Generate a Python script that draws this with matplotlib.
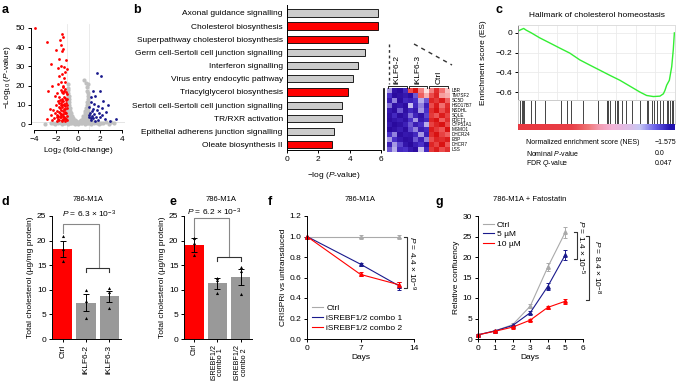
import numpy as np
import matplotlib
matplotlib.use('Agg')
import matplotlib.pyplot as plt
from matplotlib.colors import LinearSegmentedColormap
from matplotlib.lines import Line2D

plt.rcParams['font.family'] = ['Liberation Sans', 'DejaVu Sans']
plt.rcParams['mathtext.fontset'] = 'custom'
plt.rcParams['mathtext.rm'] = 'Liberation Sans'
plt.rcParams['mathtext.it'] = 'Liberation Sans:italic'
plt.rcParams['font.size'] = 6
plt.rcParams['axes.linewidth'] = 0.7
plt.rcParams['xtick.major.width'] = 0.7
plt.rcParams['ytick.major.width'] = 0.7
plt.rcParams['xtick.major.size'] = 2
plt.rcParams['ytick.major.size'] = 2
plt.rcParams['xtick.major.pad'] = 2
plt.rcParams['ytick.major.pad'] = 2
plt.rcParams['axes.labelpad'] = 2

# ---- a: volcano plot ----
red_x = [-3.9, -2.8, -1.45, -1.65, -1.35, -1.55, -1.4, -2.05, -1.5, -1.1, -1.75, -2.45, -1.6, -1.3, -1.85,
         -1.0, -1.2, -1.45, -1.7, -1.3, -2.4, -1.55, -1.15, -1.8, -1.35, -2.75, -1.6, -1.2, -1.9, -1.4,
         -1.05, -2.15, -1.7, -1.25, -1.5, -1.0, -1.85, -1.35, -1.6, -1.1, -2.0, -1.45, -1.2, -1.75, -2.6,
         -2.3, -1.3, -1.0, -1.55, -1.9, -2.1, -1.15, -1.65, -1.4, -2.5, -1.8, -1.05, -1.25, -1.55, -2.2,
         -1.95, -1.35, -1.7, -1.1, -2.8, -1.5, -1.9, -1.2, -2.4,
         -1.05, -1.15, -1.25, -1.35, -1.45, -1.55, -1.65, -1.75, -1.85, -1.95, -1.08, -1.18, -1.28, -1.38,
         -1.48, -1.58, -1.68, -1.78, -1.02, -1.12, -1.22, -1.32, -1.42, -1.52, -1.62, -1.1, -1.2, -1.3,
         -1.4, -1.5]
red_y = [50, 42.5, 47, 43.5, 45, 41, 39, 38.5, 38, 33.5, 34, 31, 30, 29.5, 29,
         28.5, 27, 26, 25, 24, 20, 22, 22, 21, 20, 17, 18, 18.5, 16, 16,
         15.5, 14.5, 14, 14, 13, 13, 12, 12, 11, 11, 10, 10, 9.5, 9, 8,
         7.5, 8, 8.5, 7.5, 7, 6, 6.5, 6, 5.5, 5, 4.5, 4.5, 4, 3.5, 3,
         3.5, 2.5, 2.2, 2.5, 2.5, 1.8, 1.8, 1.6, 2.0,
         2.0, 3.0, 2.8, 4.2, 2.2, 5.2, 3.8, 6.5, 2.6, 5.0, 6.0, 7.8, 10.5, 6.8,
         8.8, 9.8, 12.5, 11.2, 10.0, 12.8, 6.0, 10.2, 12.2, 4.8, 8.2, 16.5, 13.5, 17.0,
         19.5, 16.8]
blue_x = [1.7, 2.1, 1.35, 2.05, 1.2, 1.6, 2.3, 1.15, 1.5, 2.7, 1.8, 1.05, 2.2, 1.35, 1.7, 2.55, 1.1,
          1.9, 1.45, 2.2, 1.25, 1.65, 2.0, 1.05, 1.4, 2.5, 1.8, 1.2, 3.5, 2.9, 1.55, 1.3, 1.0, 1.15]
blue_y = [26.5, 25, 17, 17, 14, 14.5, 12, 11.5, 10.5, 10, 9.5, 9, 8.5, 8, 7.5, 6.5, 6,
          6, 5.5, 5, 4.5, 4, 3.5, 3.5, 3, 2.5, 2.2, 2, 2.5, 1.8, 1.8, 6.8, 5, 3]
gray_x = [-3.0, -2.5, -2.1, -1.8, -1.5, -1.2, -0.9, -0.6, -0.3, 0.0, 0.3, 0.6, 0.9, 1.2, 1.5, 1.9, 2.3, 2.8, 3.3,
          -2.3, -1.9, -1.6, -1.3, -1.0, -0.7, -0.45, -0.2, 0.1, 0.35, 0.6, 0.85, 1.1, 1.4, 1.7, 2.1, 2.6,
          -1.4, -1.1, -0.85, -0.6, -0.3, 0.0, 0.3, 0.55, 0.8, 1.05, 1.35, 1.8, 3.0,
          -0.95, -0.75, -0.55, -0.35, -0.15, 0.15, 0.35, 0.55, 0.75, 0.95,
          -0.98, -0.82, -0.65, -0.48, -0.3, 0.3, 0.48, 0.65, 0.82, 0.97,
          -0.97, -0.8, -0.62, -0.45, 0.42, 0.6, 0.78, 0.95,
          -0.98, -0.83, -0.68, -0.52, 0.5, 0.68, 0.85, 0.98,
          -0.96, -0.8, -0.65, 0.6, 0.78, 0.95,
          -0.95, -0.82, -0.7, 0.68, 0.82, 0.96,
          -0.97, -0.85, -0.74, 0.75, 0.88,
          -0.95, -0.83, 0.78, 0.92,
          -0.93, -0.82, 0.82, 0.95,
          -0.96, -0.86, 0.88,
          -0.92, -0.85, 0.92,
          -0.94, 0.9, -0.9, 0.85, -0.95, 0.8, -0.88, 0.72, 0.9, 0.55]
gray_y = [0.2, 0.4, 0.3, 0.5, 0.2, 0.4, 0.3, 0.5, 0.2, 0.3, 0.4, 0.2, 0.5, 0.3, 0.4, 0.2, 0.5, 0.3, 0.4,
          0.8, 0.9, 0.7, 0.8, 0.9, 0.7, 0.8, 0.9, 0.7, 0.8, 0.9, 0.7, 0.8, 0.9, 0.7, 0.8, 0.9,
          1.1, 1.2, 1.0, 1.1, 1.2, 1.0, 1.1, 1.2, 1.0, 1.1, 1.2, 1.0, 1.1,
          1.6, 1.5, 1.7, 1.6, 1.5, 1.5, 1.6, 1.7, 1.5, 1.6,
          2.3, 2.2, 2.4, 2.3, 2.2, 2.2, 2.3, 2.4, 2.2, 2.3,
          3.2, 3.1, 3.3, 3.2, 3.1, 3.3, 3.2, 3.1,
          4.3, 4.2, 4.4, 4.3, 4.2, 4.4, 4.3, 4.2,
          5.6, 5.5, 5.7, 5.6, 5.5, 5.7,
          7.0, 6.9, 7.1, 7.0, 6.9, 7.1,
          8.5, 8.4, 8.6, 8.5, 8.4,
          10.0, 10.1, 9.9, 10.0,
          11.5, 11.4, 11.6, 11.5,
          13.0, 13.1, 12.9,
          14.5, 14.4, 14.6,
          16.0, 16.1, 17.5, 17.4, 19.0, 19.1, 21.0, 21.2, 20.8, 23.0]

# ---- b: pathways ----
pathways = ['Axonal guidance signalling', 'Cholesterol biosynthesis', 'Superpathway cholesterol biosynthesis',
            'Germ cell-Sertoli cell junction signalling', 'Interferon signalling',
            'Virus entry endocytic pathway', 'Triacylglycerol biosynthesis',
            'Sertoli cell-Sertoli cell junction signalling', 'TR/RXR activation',
            'Epithelial adherens junction signalling', 'Oleate biosynthesis II']
pathway_logp = [5.8, 5.8, 5.2, 5.0, 4.5, 4.2, 3.9, 3.5, 3.5, 3.0, 2.9]
pathway_sterol = [False, True, True, False, False, False, True, False, False, False, True]

# ---- heatmap ----
genes = ['LBR', 'TM7SF2', 'SC5D', 'HSD17B7', 'NSDHL', 'SQLE', 'FDFT1', 'CYP51A1', 'MSMO1',
         'DHCR24', 'EBP', 'DHCR7', 'LSS']
groups = ['iKLF6-2', 'iKLF6-3', 'Ctrl']
heat = np.array([
    [-0.5, -1.8, -2.0, -1.2, 1.2, 1.8, 0.8, 0.2, 0.8, 1.5, 0.9, 0.4],
    [-1.0, -2.0, -1.8, -1.6, -1.9, -0.8, 1.0, 0.5, 1.2, 1.6, 0.6, 0.5],
    [-1.5, -0.6, -1.9, -1.2, -1.4, -1.0, -0.4, -0.8, 1.6, 1.4, 1.7, 1.0],
    [-0.7, -1.8, -1.6, -1.9, -0.3, -1.2, -0.6, -1.4, 1.2, 1.7, 0.9, 1.5],
    [-1.6, -1.9, -0.8, -1.8, -1.2, -1.6, -0.5, -1.0, 1.5, 1.8, 1.2, 1.6],
    [-1.8, -1.2, -1.9, -1.6, -0.7, -1.3, -1.8, -0.9, 1.4, 1.1, 1.7, 1.3],
    [-1.9, -1.7, -1.5, -1.8, -1.0, -0.5, -1.6, -1.2, 1.6, 1.8, 1.0, 1.5],
    [-1.6, -2.0, -1.8, -1.4, -0.8, -1.5, -1.0, -0.4, 1.3, 1.6, 1.8, 1.2],
    [-2.0, -1.8, -1.5, -1.9, -0.9, -0.6, -1.5, -1.1, 1.7, 1.4, 1.1, 1.8],
    [-1.0, -0.6, -1.9, -1.6, -1.7, -1.2, -0.5, -1.4, 1.5, 1.8, 1.3, 1.0],
    [-0.5, -1.0, -1.6, -1.9, -1.8, -0.8, -1.4, -0.6, 1.2, 1.6, 1.5, 1.7],
    [-1.4, -0.5, -0.9, -1.7, -2.0, -1.5, -1.0, -1.8, 1.6, 1.3, 1.8, 1.1],
    [-0.8, -0.4, -1.2, -1.0, -1.6, -1.9, -0.3, -1.2, 1.4, 1.7, 1.2, 1.5],
])

# ---- c: GSEA ----
es_rank = [0.0, 0.015, 0.036, 0.053, 0.085, 0.138, 0.2, 0.266, 0.33, 0.394, 0.457, 0.52, 0.585, 0.649,
           0.713, 0.777, 0.819, 0.862, 0.904, 0.926, 0.936, 0.947, 0.964, 0.979, 0.989, 0.996]
es_score = [0.017, 0.03, 0.045, 0.027, 0.0, -0.05, -0.10, -0.154, -0.205, -0.274, -0.326, -0.377, -0.43,
            -0.48, -0.54, -0.6, -0.634, -0.645, -0.641, -0.617, -0.583, -0.53, -0.48, -0.343, -0.171, 0.0]
hit_pos = [0.015, 0.023, 0.032, 0.04, 0.085, 0.109, 0.17, 0.277, 0.309, 0.336, 0.415, 0.511, 0.564, 0.568,
           0.574, 0.585, 0.617, 0.628, 0.638, 0.66, 0.691, 0.723, 0.777, 0.819, 0.83, 0.851, 0.866, 0.883,
           0.904, 0.926, 0.947, 0.957, 0.968, 0.979, 0.989]
rank_metric = [2.4, 2.3, 2.2, 2.1, 2.0, 1.9, 1.7, 1.4, 1.0, 0.6, 0.3, 0.1, -0.1, -0.3, -0.5, -0.8,
               -1.2, -1.6, -2.0, -2.4]
gsea_stats = [('Normalized enrichment score (NES)', '−1.575'),
              ('Nominal $P$-value', '0.0'),
              ('FDR $Q$-value', '0.047')]

# ---- d / e: total cholesterol ----
d_labels = ['Ctrl', 'iKLF6-2', 'iKLF6-3']
d_means = [18.3, 7.4, 8.7]
d_err = [1.6, 1.8, 1.1]
d_reps = [[20.9, 18.2, 15.9], [9.9, 7.7, 4.3], [10.4, 9.6, 6.4]]
e_labels = ['Ctrl', 'iSREBF1/2\ncombo 1', 'iSREBF1/2\ncombo 2']
e_means = [19.1, 11.3, 12.6]
e_err = [1.4, 1.2, 1.7]
e_reps = [[20.5, 19.6, 17.1], [12.3, 11.9, 9.3], [14.6, 13.8, 9.1]]

# ---- f: CRISPRi time course ----
f_days = [0, 7, 12]
f_ctrl = [1.0, 1.0, 1.0]
f_ctrl_err = [0.0, 0.01, 0.01]
f_combo1 = [1.0, 0.73, 0.52]
f_combo1_err = [0.0, 0.015, 0.04]
f_combo2 = [1.0, 0.63, 0.53]
f_combo2_err = [0.0, 0.02, 0.03]

# ---- g: fatostatin ----
g_days = [0, 1, 2, 3, 4, 5]
g_ctrl = [1.0, 2.0, 3.5, 8.0, 17.5, 26.0]
g_ctrl_err = [0.1, 0.1, 0.3, 0.5, 1.0, 1.3]
g_5um = [1.0, 2.0, 3.3, 6.4, 12.8, 20.5]
g_5um_err = [0.1, 0.1, 0.2, 0.4, 0.8, 1.2]
g_10um = [1.0, 1.9, 2.9, 4.6, 7.7, 9.2]
g_10um_err = [0.1, 0.1, 0.2, 0.3, 0.4, 0.6]

RED = '#ff0000'
NAVY = '#1a1a8c'
GRAY = '#aaaaaa'

W, H = 686, 386
fig = plt.figure(figsize=(6.86, 3.86), dpi=100)


def ax_px(x, y, w, h):
    return fig.add_axes([x / W, 1 - (y + h) / H, w / W, h / H])


def ftext(x, y, s, **kw):
    fig.text(x / W, 1 - y / H, s, **kw)


def clean(ax):
    ax.spines['top'].set_visible(False)
    ax.spines['right'].set_visible(False)


# panel letters
for lab, x, y in [('a', 2, 10), ('b', 133, 10), ('c', 495, 10),
                  ('d', 2, 202), ('e', 170, 202), ('f', 268, 202), ('g', 436, 202)]:
    ftext(x, y, lab, fontsize=9, fontweight='bold', va='center')

# a
axa = ax_px(31, 24, 94, 106)
axa.axhline(1.3, color='#e0e0e0', lw=0.6, zorder=0)
axa.axvline(-1, color='#e8e8e8', lw=0.6, zorder=0)
axa.axvline(1, color='#e8e8e8', lw=0.6, zorder=0)
axa.scatter(gray_x, gray_y, s=9, c='#c0c0c0', lw=0)
axa.scatter(red_x, red_y, s=4, c=RED, lw=0)
axa.scatter(blue_x, blue_y, s=4, c=NAVY, lw=0)
axa.set_xlim(-4.3, 4.3)
axa.set_ylim(-3, 52)
clean(axa)
axa.spines['left'].set_bounds(0, 50)
axa.spines['bottom'].set_bounds(-4, 4)
axa.set_xticks([-4, -2, 0, 2, 4])
axa.set_yticks([0, 10, 20, 30, 40, 50])
axa.set_xlabel('Log$_2$ (fold-change)')
axa.set_ylabel('−Log$_{10}$ ($P$-value)')

# b
axb = ax_px(287, 5, 94, 145)
yy = np.arange(len(pathways))
axb.barh(yy, pathway_logp, height=0.55,
         color=[RED if s else '#cccccc' for s in pathway_sterol], edgecolor='black', lw=0.6)
axb.set_xlim(0, 6)
axb.set_ylim(10.4, -0.6)
axb.set_yticks(yy)
axb.set_yticklabels(pathways)
axb.tick_params(axis='y', length=0, pad=3)
axb.set_xticks([0, 2, 4, 6])
clean(axb)
axb.set_xlabel('−log ($P$-value)', labelpad=5)

# heatmap
cmap_hm = LinearSegmentedColormap.from_list('hm', ['#2a0a9e', '#4a30c8', '#ffffff', '#f06060', '#d40000'])
axhm = ax_px(386.7, 88.3, 62.6, 63.4)
axhm.imshow(heat, cmap=cmap_hm, vmin=-2, vmax=2, aspect='auto', interpolation='nearest')
axhm.set_xlim(-0.5, 11.5)
axhm.set_ylim(12.5, -0.5)
axhm.axis('off')
for i, g in enumerate(genes):
    axhm.text(11.9, i, g, fontsize=3.3, va='center', ha='left')
for k, g in enumerate(groups):
    c0 = 4 * k
    axhm.plot([c0 - 0.3, c0 - 0.3, c0 + 3.3, c0 + 3.3], [-0.6, -0.9, -0.9, -0.6],
              color='black', lw=0.6, clip_on=False)
    axhm.text(c0 + 1.5, -1.4, g, rotation=90, ha='center', va='bottom', fontsize=6)
fig.add_artist(Line2D([384 / W, 384 / W], [1 - 89 / H, 1 - 150 / H], color='black', lw=1.2))
fig.add_artist(Line2D([389 / W, 389 / W], [1 - 44 / H, 1 - 84 / H], color='#333333', lw=1.0,
                      ls=(0, (2, 2))))
fig.add_artist(Line2D([414 / W, 452 / W], [1 - 44 / H, 1 - 65 / H], color='#333333', lw=1.0,
                      ls=(0, (3, 3))))

# c
axc = ax_px(518, 25, 157, 75)
axc.plot(es_rank, es_score, color='#33ee33', lw=1.0)
axc.set_xlim(0, 1)
axc.set_ylim(-0.68, 0.08)
axc.set_yticks([0, -0.2, -0.4, -0.6])
axc.set_yticklabels(['0', '−0.2', '−0.4', '−0.6'])
axc.set_xticks([0.125, 0.25, 0.375, 0.5, 0.625, 0.75, 0.875])
axc.tick_params(axis='x', length=0, labelbottom=False)
axc.grid(color='#ebebeb', lw=0.6)
axc.set_axisbelow(True)
for s in ['top', 'right', 'bottom']:
    axc.spines[s].set_color('#dddddd')
axc.spines['left'].set_color('#888888')
axc.set_title('Hallmark of cholesterol homeostasis', fontsize=6, pad=6)
axc.set_ylabel('Enrichment score (ES)', labelpad=6)

axhit = ax_px(518, 100, 157, 24)
axhit.vlines(hit_pos, 0, 1, color='#444444', lw=0.7)
axhit.set_xlim(0, 1)
axhit.set_ylim(0, 1)
axhit.set_xticks([])
axhit.set_yticks([])
for s in axhit.spines.values():
    s.set_color('#cccccc')

cmap_rank = LinearSegmentedColormap.from_list(
    'rk', ['#2010b0', '#6a60e8', '#c8c8f4', '#f4b4d8', '#f07878', '#e84048', '#e83840'])
axr = ax_px(518, 124, 157, 6.5)
axr.imshow(np.array([rank_metric]), cmap=cmap_rank, vmin=-2.4, vmax=2.4, aspect='auto',
           extent=(0, 1, 0, 1), interpolation='bilinear')
axr.axis('off')

for i, (lab, val) in enumerate(gsea_stats):
    ftext(526, 142 + 11 * i, lab, va='center', fontsize=5)
    ftext(655, 142 + 11 * i, val, va='center', fontsize=5)


# d and e
def chol_panel(ax, labels, means, err, reps, lab_size=6):
    x = np.arange(len(labels))
    ax.bar(x, means, width=0.82, color=[RED, '#999999', '#999999'])
    ax.errorbar(x, means, yerr=err, fmt='none', ecolor='black', elinewidth=0.7, capsize=2, capthick=0.7)
    for i, r in enumerate(reps):
        ax.scatter([i] * len(r), r, marker='^', s=5, color='black', lw=0, zorder=3)
    ax.set_ylim(0, 25)
    ax.set_yticks([0, 5, 10, 15, 20, 25])
    ax.set_xticks(x)
    ax.set_xticklabels(labels, rotation=90, fontsize=lab_size, linespacing=1.0)
    clean(ax)
    ax.set_ylabel('Total cholesterol (µg/mg protein)')


axd = ax_px(52, 216, 69, 123)
chol_panel(axd, d_labels, d_means, d_err, d_reps)
axd.set_xlim(-0.46, 2.5)
axd.plot([0, 0, 1.55, 1.55], [21.6, 23.4, 23.4, 14.5], color='#888888', lw=0.8, clip_on=False)
axd.plot([1, 1, 2, 2], [13.6, 14.5, 14.5, 13.6], color='#333333', lw=0.8, clip_on=False)
axd.text(1.15, 25.4, '$P$ = 6.3 × 10$^{-3}$', ha='center', va='center', fontsize=6, clip_on=False)
ftext(88, 199, '786-M1A', ha='center', va='center', fontsize=5.5)

axe = ax_px(184, 216, 68, 123)
chol_panel(axe, e_labels, e_means, e_err, e_reps, lab_size=5.2)
axe.tick_params(axis='x', pad=1.5)
axe.set_xlim(-0.43, 2.48)
axe.plot([0, 0, 1.5, 1.5], [20.8, 24.5, 24.5, 16.7], color='#888888', lw=0.8, clip_on=False)
axe.plot([1, 1, 2, 2], [15.8, 16.7, 16.7, 15.8], color='#333333', lw=0.8, clip_on=False)
axe.text(0.85, 25.7, '$P$ = 6.2 × 10$^{-3}$', ha='center', va='center', fontsize=6, clip_on=False)
ftext(221, 199, '786-M1A', ha='center', va='center', fontsize=5.5)

# f
axf = ax_px(307, 216, 107, 123)
for ys, es, col in [(f_ctrl, f_ctrl_err, GRAY), (f_combo1, f_combo1_err, NAVY), (f_combo2, f_combo2_err, RED)]:
    axf.errorbar(f_days, ys, yerr=es, color=col, marker='^', ms=2.5, lw=0.8, elinewidth=0.7,
                 capsize=1.2, capthick=0.7, clip_on=False)
axf.set_xlim(0, 14)
axf.set_ylim(0, 1.2)
axf.set_xticks([0, 7, 14])
axf.set_yticks([0, 0.2, 0.4, 0.6, 0.8, 1.0, 1.2])
clean(axf)
axf.set_xlabel('Days')
axf.set_ylabel('CRISPRi vs untransduced')
axf.plot([12.7, 13.05, 13.05, 12.7], [1.0, 1.0, 0.5, 0.5], color='#333333', lw=0.8, clip_on=False)
axf.text(13.75, 0.74, '$P$ = 4.4 × 10$^{-9}$', rotation=-90, ha='center', va='center', fontsize=6,
         clip_on=False)
f_handles = [Line2D([], [], color=GRAY, lw=0.8), Line2D([], [], color=NAVY, lw=0.8),
             Line2D([], [], color=RED, lw=0.8)]
axf.legend(f_handles, ['Ctrl', 'iSREBF1/2 combo 1', 'iSREBF1/2 combo 2'], loc='lower left',
           frameon=False, fontsize=6, handlelength=1.3, handletextpad=0.4, labelspacing=0.25,
           borderaxespad=0.2, bbox_to_anchor=(0.0, 0.02))
ftext(360, 199, '786-M1A', ha='center', va='center', fontsize=5.5)

# g
axg = ax_px(477.7, 216, 105, 123)
for ys, es, col in [(g_ctrl, g_ctrl_err, GRAY), (g_5um, g_5um_err, NAVY), (g_10um, g_10um_err, RED)]:
    axg.errorbar(g_days, ys, yerr=es, color=col, marker='^', ms=2.5, lw=0.8, elinewidth=0.7,
                 capsize=1.2, capthick=0.7, clip_on=False)
axg.set_xlim(0, 6)
axg.set_ylim(0, 30)
axg.set_xticks(g_days + [6])
axg.set_yticks([0, 5, 10, 15, 20, 25, 30])
clean(axg)
axg.set_xlabel('Days')
axg.set_ylabel('Relative confluency')
axg.plot([5.5, 5.66, 5.66, 5.5], [26.0, 26.0, 19.5, 19.5], color='#333333', lw=0.8, clip_on=False)
axg.text(5.9, 22.5, '$P$ = 1.4 × 10$^{-5}$', rotation=-90, ha='center', va='center', fontsize=6,
         clip_on=False)
axg.plot([6.2, 6.37, 6.37, 6.2], [25.2, 25.2, 9.4, 9.4], color='#333333', lw=0.8, clip_on=False)
axg.text(6.77, 17.5, '$P$ = 8.4 × 10$^{-8}$', rotation=-90, ha='center', va='center', fontsize=6,
         clip_on=False)
axg.legend(f_handles, ['Ctrl', '5 µM', '10 µM'], loc='upper left', frameon=False, fontsize=6,
           handlelength=1.3, handletextpad=0.4, labelspacing=0.2, borderaxespad=0.2,
           bbox_to_anchor=(0.0, 1.0))
ftext(530, 199, '786-M1A + Fatostatin', ha='center', va='center', fontsize=5.5)

fig.savefig('out.png', dpi=100)
